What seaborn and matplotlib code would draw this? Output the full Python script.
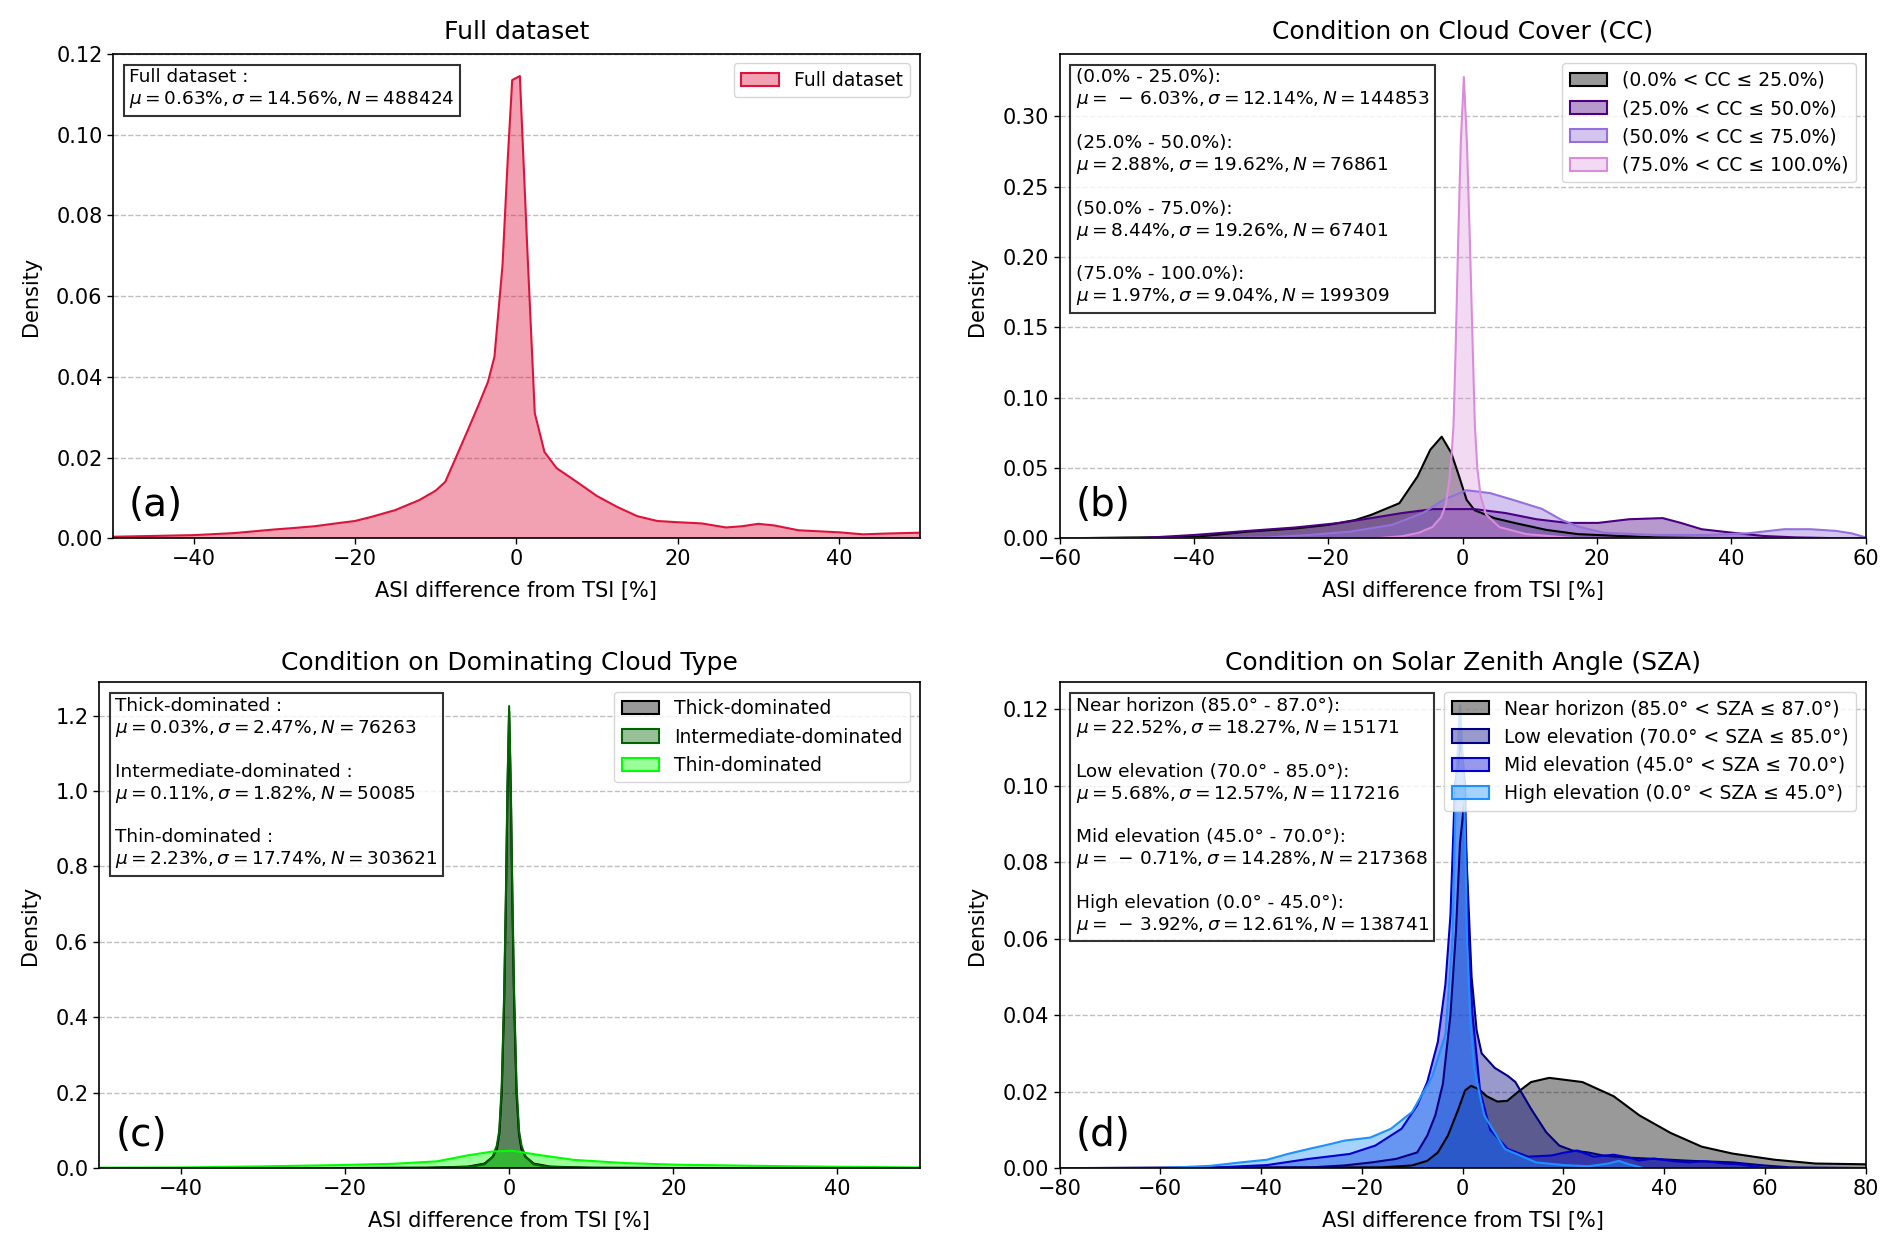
import matplotlib
matplotlib.use("Agg")
import matplotlib.pyplot as plt
import seaborn as sns
from matplotlib.patches import Patch
from matplotlib.colors import to_rgba

# ---------------- data ----------------
# Panel (a): full dataset density curve
a_x = [-50, -45, -40, -35, -30, -28, -25, -22, -20, -18, -15, -12, -10, -8.8, -7.7, -6.2, -4.7, -3.5, -2.7, -1.7,
       -1.05, -0.5, 0.45, 1.35, 2.3, 3.5, 5, 7.5, 10, 12.5, 15, 17.5, 20, 23, 26, 28, 30, 32, 35, 40, 43, 46, 50]
a_y = [0.0004, 0.0006, 0.0008, 0.0013, 0.0022, 0.0025, 0.0030, 0.0038, 0.0043, 0.0053, 0.0070, 0.0095, 0.0118,
       0.0140, 0.0190, 0.0259, 0.0329, 0.0388, 0.0450, 0.0677, 0.0940, 0.1135, 0.1145, 0.0727, 0.0310, 0.0214,
       0.0174, 0.0140, 0.0105, 0.0078, 0.0055, 0.0043, 0.0040, 0.0037, 0.0027, 0.0030, 0.0036, 0.0032, 0.0020,
       0.0015, 0.0010, 0.0012, 0.0014]
a_label = "Full dataset"
a_stats = ("Full dataset", 0.63, 14.56, 488424)

# Panel (b): cloud cover classes
b_labels = ["(0.0% < CC ≤ 25.0%)", "(25.0% < CC ≤ 50.0%)", "(50.0% < CC ≤ 75.0%)", "(75.0% < CC ≤ 100.0%)"]
b_ranges = ["(0.0% - 25.0%)", "(25.0% - 50.0%)", "(50.0% - 75.0%)", "(75.0% - 100.0%)"]
b_mu = [-6.03, 2.88, 8.44, 1.97]
b_sigma = [12.14, 19.62, 19.26, 9.04]
b_n = [144853, 76861, 67401, 199309]
b1_x = [-60, -50, -40, -32, -25, -20, -16, -13.6, -9.4, -6.7, -4.8, -3.1, -1.7, -0.5, 0.6, 1.8, 4.8, 7.9, 12.5,
        17.2, 23.3, 28.7, 35, 45, 60]
b1_y = [0, 0.0006, 0.0010, 0.0048, 0.0070, 0.0096, 0.0130, 0.0167, 0.0250, 0.0440, 0.0630, 0.0723, 0.0610,
        0.0440, 0.0275, 0.0200, 0.0143, 0.0108, 0.0060, 0.0030, 0.0017, 0.0007, 0.0003, 0.0001, 0]
b2_x = [-60, -48, -40, -32, -25, -18.2, -13.6, -9, -4.4, 1.8, 6.4, 11, 15.6, 20.2, 24.8, 29.8, 32.5, 35.6, 40.2,
        44.8, 49.5, 55, 60]
b2_y = [0, 0.0002, 0.0024, 0.0053, 0.0077, 0.0110, 0.0144, 0.0180, 0.0208, 0.0208, 0.0180, 0.0136, 0.0110,
        0.0110, 0.0136, 0.0144, 0.0110, 0.0065, 0.0040, 0.0017, 0.0007, 0.0002, 0]
b3_x = [-60, -40, -29, -22.8, -16.7, -10.5, -5.9, -2.8, 0.6, 4.1, 7.9, 11.8, 14.8, 17.2, 21, 28.7, 36.4, 42.5,
        47.9, 51.8, 55.6, 57.9, 60]
b3_y = [0, 0.0001, 0.0007, 0.0024, 0.0048, 0.0096, 0.0180, 0.0275, 0.0342, 0.0322, 0.0268, 0.0210, 0.0130,
        0.0084, 0.0040, 0.0024, 0.0024, 0.0036, 0.0065, 0.0065, 0.0053, 0.0036, 0.0007]
b4_x = [-60, -13, -9, -6.5, -4.5, -3.2, -2.5, -2.0, -1.7, -1.34, -1.0, -0.65, -0.25, 0.2, 0.65, 1.1, 1.5, 1.84,
        2.2, 2.7, 3.5, 5.5, 9.5, 14, 17, 60]
b4_y = [0, 0, 0.0015, 0.004, 0.008, 0.015, 0.024, 0.040, 0.055, 0.080, 0.139, 0.211, 0.282, 0.328, 0.282, 0.211,
        0.139, 0.080, 0.050, 0.030, 0.017, 0.008, 0.003, 0.0012, 0, 0]

# Panel (c): dominating cloud type
c_labels = ["Thick-dominated", "Intermediate-dominated", "Thin-dominated"]
c_mu = [0.03, 0.11, 2.23]
c_sigma = [2.47, 1.82, 17.74]
c_n = [76263, 50085, 303621]
c1_x = [-50, -20, -10, -5, -3, -2, -1.5, -1.2, -0.9, -0.6, -0.4, -0.2, 0, 0.2, 0.4, 0.6, 0.9, 1.2, 1.5, 2, 3, 5,
        10, 20, 50]
c1_y = [0, 0.0003, 0.001, 0.004, 0.012, 0.03, 0.05, 0.09, 0.2, 0.45, 0.7, 1.0, 1.21, 1.0, 0.7, 0.45, 0.2, 0.09,
        0.05, 0.03, 0.012, 0.004, 0.001, 0.0003, 0]
c2_x = [-50, -20, -10, -5, -3, -2, -1.5, -1.2, -0.9, -0.6, -0.4, -0.2, 0, 0.2, 0.4, 0.6, 0.9, 1.2, 1.5, 2, 3, 5,
        10, 20, 50]
c2_y = [0, 0.0002, 0.0008, 0.003, 0.010, 0.03, 0.06, 0.10, 0.22, 0.47, 0.72, 1.02, 1.225, 1.02, 0.72, 0.47, 0.22,
        0.10, 0.06, 0.03, 0.010, 0.003, 0.0008, 0.0002, 0]
c3_x = [-50, -40, -30.7, -21, -14, -8.8, -5, -2, 0.4, 3.3, 7.8, 14.2, 20.6, 30.3, 40, 50]
c3_y = [0.0012, 0.0018, 0.0044, 0.0080, 0.0116, 0.0180, 0.0340, 0.0440, 0.0460, 0.0360, 0.0220, 0.0133, 0.0090,
        0.0060, 0.0036, 0.0018]

# Panel (d): solar zenith angle classes
d_labels = ["Near horizon (85.0° < SZA ≤ 87.0°)", "Low elevation (70.0° < SZA ≤ 85.0°)",
            "Mid elevation (45.0° < SZA ≤ 70.0°)", "High elevation (0.0° < SZA ≤ 45.0°)"]
d_ranges = ["Near horizon (85.0° - 87.0°)", "Low elevation (70.0° - 85.0°)",
            "Mid elevation (45.0° - 70.0°)", "High elevation (0.0° - 45.0°)"]
d_mu = [22.52, 5.68, -0.71, -3.92]
d_sigma = [18.27, 12.57, 14.28, 12.61]
d_n = [15171, 117216, 217368, 138741]
d1_x = [-80, -16, -10, -7, -4.9, -2.9, -0.8, 0.5, 1.7, 3.3, 4.8, 6.9, 8.9, 11, 13.6, 17.2, 23.8, 30, 35.1, 41.3,
        47.5, 53.6, 61.9, 70, 80]
d1_y = [0, 0.0002, 0.0007, 0.0019, 0.0041, 0.0085, 0.0155, 0.0203, 0.0215, 0.0206, 0.0188, 0.0174, 0.0176,
        0.0199, 0.0225, 0.0236, 0.0225, 0.0188, 0.0138, 0.0092, 0.0056, 0.0038, 0.0022, 0.0012, 0.0010]
d2_x = [-80, -30, -23.4, -18, -13.2, -9, -7, -5.4, -3.9, -2.4, -1.3, -0.5, 0.3, 1.0, 1.8, 2.8, 3.8, 6.4, 9, 10.5,
        13.6, 16.6, 19.2, 21.8, 24.9, 27.9, 32, 38.2, 45.4, 53.6, 59.8, 65, 80]
d2_y = [0, 0.0002, 0.0007, 0.0015, 0.0024, 0.0041, 0.0085, 0.0138, 0.0220, 0.0400, 0.0620, 0.0850, 0.0950,
        0.0750, 0.0500, 0.0360, 0.0300, 0.0262, 0.0241, 0.0225, 0.0155, 0.0094, 0.0059, 0.0046, 0.0041, 0.0033,
        0.0028, 0.0024, 0.0019, 0.0015, 0.0007, 0.0002, 0]
d3_x = [-80, -50, -38.8, -30.6, -22.4, -17.3, -12.1, -9, -7, -4.9, -3.4, -2.4, -1.5, -0.3, 0.5, 0.8, 1.2, 2, 3.5,
        5.5, 9, 13, 17.7, 20, 22.8, 26, 30, 33, 35, 38, 42, 45, 48, 52, 55, 60, 80]
d3_y = [0, 0.0001, 0.0008, 0.0024, 0.0037, 0.0059, 0.0103, 0.0164, 0.0225, 0.0330, 0.0480, 0.0660, 0.1000,
        0.1120, 0.1000, 0.0800, 0.0600, 0.0400, 0.0200, 0.0100, 0.0050, 0.0030, 0.0033, 0.0040, 0.0046, 0.0030,
        0.0035, 0.0028, 0.0020, 0.0025, 0.0018, 0.0015, 0.0018, 0.0012, 0.0010, 0, 0]
d4_x = [-80, -60, -50, -44, -38.8, -34.7, -30.6, -27.5, -23.4, -18.3, -14.2, -10, -6, -3.4, -2.0, -1.3, -0.5, 0.3,
        0.6, 0.9, 1.5, 2.3, 4.3, 8.4, 14.6, 20, 25, 29, 31, 33, 36, 80]
d4_y = [0, 0, 0.0006, 0.0015, 0.0022, 0.0037, 0.0050, 0.0059, 0.0072, 0.0080, 0.0103, 0.0147, 0.0240, 0.0350,
        0.0600, 0.1000, 0.1210, 0.1000, 0.0800, 0.0600, 0.0400, 0.0260, 0.0138, 0.0050, 0.0015, 0.0008, 0.0005,
        0.0012, 0.0019, 0.0010, 0, 0]

titles = ["Full dataset", "Condition on Cloud Cover (CC)", "Condition on Dominating Cloud Type",
          "Condition on Solar Zenith Angle (SZA)"]
panel_tags = ["(a)", "(b)", "(c)", "(d)"]
xlabel = "ASI difference from TSI [%]"
ylabel = "Density"

# ---------------- styling ----------------
plt.rcParams["font.family"] = ["DejaVu Sans"]
plt.rcParams["mathtext.fontset"] = "dejavusans"
plt.rcParams["axes.linewidth"] = 1.2

FS_TITLE = 18
FS_LABEL = 15
FS_TICK = 15
FS_LEG = 13.5
FS_BOX = 13.3
FS_TAG = 28

fig = plt.figure(figsize=(18.92, 12.52), dpi=100)
positions = [[0.0597, 0.570, 0.4263, 0.387],
             [0.5600, 0.570, 0.4260, 0.387],
             [0.0522, 0.067, 0.4338, 0.388],
             [0.5600, 0.067, 0.4260, 0.388]]
axes = [fig.add_axes(p) for p in positions]


def stat_line(mu, sigma, n):
    mu_txt = (r"\,-\,%.2f" % abs(mu)) if mu < 0 else ("%.2f" % mu)
    return r"$\mu = %s\%%, \sigma = %.2f\%%, N = %d$" % (mu_txt, sigma, n)


def draw_panel(ax, series, colors, alphas, labels, xlim, ylim, xticks, yticks, box_text, idx, title_pad):
    handles = []
    for (x, y), c, al, lab in zip(series, colors, alphas, labels):
        ax.fill_between(x, y, 0, facecolor=to_rgba(c, al), edgecolor="none", linewidth=0)
        sns.lineplot(x=x, y=y, color=c, linewidth=1.5, ax=ax, legend=False, sort=False)
        handles.append(Patch(facecolor=to_rgba(c, al), edgecolor=c, linewidth=1.5, label=lab))
    ax.set_xlim(*xlim)
    ax.set_ylim(*ylim)
    ax.set_xticks(xticks)
    ax.set_yticks(yticks)
    ax.tick_params(labelsize=FS_TICK, width=1.0, length=4)
    ax.grid(axis="y", linestyle="--", color="#b0b0b0", alpha=0.8, linewidth=1.0)
    ax.set_axisbelow(True)
    ax.set_title(titles[idx], fontsize=FS_TITLE, pad=title_pad)
    ax.set_xlabel(xlabel, fontsize=FS_LABEL, labelpad=9)
    ax.set_ylabel(ylabel, fontsize=FS_LABEL, labelpad=11)
    ax.legend(handles=handles, loc="upper right", fontsize=FS_LEG, framealpha=0.8)
    ax.text(0.02, 0.97, box_text, transform=ax.transAxes, va="top", ha="left", fontsize=FS_BOX,
            bbox=dict(boxstyle="square,pad=0.3", facecolor="white", edgecolor="black", alpha=0.8, linewidth=1.5))
    ax.text(0.02, 0.03, panel_tags[idx], transform=ax.transAxes, va="bottom", ha="left", fontsize=FS_TAG)
    for s in ax.spines.values():
        s.set_color("black")


# (a)
box_a = "%s :\n%s" % (a_stats[0], stat_line(*a_stats[1:]))
draw_panel(axes[0], [(a_x, a_y)], ["crimson"], [0.4], [a_label], (-50, 50), (0, 0.12),
           [-40, -20, 0, 20, 40], [0, 0.02, 0.04, 0.06, 0.08, 0.10, 0.12], box_a, 0, 11)

# (b)
box_b = "\n\n".join("%s:\n%s" % (r, stat_line(m, s, n)) for r, m, s, n in zip(b_ranges, b_mu, b_sigma, b_n))
draw_panel(axes[1], [(b1_x, b1_y), (b2_x, b2_y), (b3_x, b3_y), (b4_x, b4_y)],
           ["black", "indigo", "mediumpurple", "#DA8CDA"], [0.4, 0.4, 0.4, 0.32], b_labels,
           (-60, 60), (0, 0.3445), [-60, -40, -20, 0, 20, 40, 60],
           [0, 0.05, 0.10, 0.15, 0.20, 0.25, 0.30], box_b, 1, 11)

# (c)
box_c = "\n\n".join("%s :\n%s" % (l, stat_line(m, s, n)) for l, m, s, n in zip(c_labels, c_mu, c_sigma, c_n))
draw_panel(axes[2], [(c1_x, c1_y), (c2_x, c2_y), (c3_x, c3_y)],
           ["black", "darkgreen", "lime"], [0.4, 0.4, 0.4], c_labels,
           (-50, 50), (0, 1.288), [-40, -20, 0, 20, 40], [0, 0.2, 0.4, 0.6, 0.8, 1.0, 1.2], box_c, 2, 9)

# (d)
box_d = "\n\n".join("%s:\n%s" % (r, stat_line(m, s, n)) for r, m, s, n in zip(d_ranges, d_mu, d_sigma, d_n))
draw_panel(axes[3], [(d1_x, d1_y), (d2_x, d2_y), (d3_x, d3_y), (d4_x, d4_y)],
           ["black", "navy", "mediumblue", "dodgerblue"], [0.4, 0.4, 0.4, 0.4], d_labels,
           (-80, 80), (0, 0.127), [-80, -60, -40, -20, 0, 20, 40, 60, 80],
           [0, 0.02, 0.04, 0.06, 0.08, 0.10, 0.12], box_d, 3, 9)

fig.savefig("out.png", dpi=100)
